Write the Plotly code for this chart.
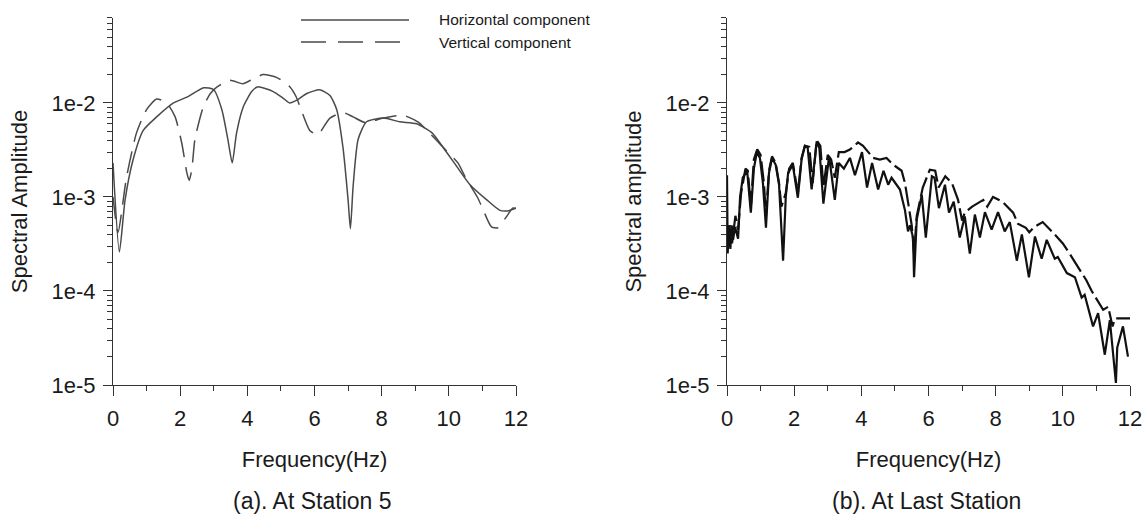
import plotly.graph_objects as go

# ---------------- data ----------------
# (a) At Station 5
freq_a_h = [0, 0.19, 0.36, 0.6, 0.9, 1.3, 1.8, 2.2, 2.7, 3.0, 3.24, 3.42, 3.55, 3.68, 3.88,
            4.13, 4.3, 4.77, 5.07, 5.26, 5.47, 5.77, 6.16, 6.46, 6.66, 6.85, 7.0, 7.07, 7.15,
            7.3, 7.55, 8.05, 8.54, 9.04, 9.5, 9.82, 10.24, 10.63, 11.13, 11.52, 11.75, 12.0]
amp_a_h = [2.3e-3, 2.6e-4, 9.3e-4, 2.5e-3, 5.1e-3, 7.1e-3, 1.0e-2, 1.15e-2, 1.45e-2, 1.38e-2,
           8.5e-3, 4.1e-3, 2.3e-3, 4.8e-3, 9.1e-3, 1.32e-2, 1.48e-2, 1.32e-2, 1.12e-2, 1.0e-2,
           1.07e-2, 1.26e-2, 1.38e-2, 1.2e-2, 8.5e-3, 3.3e-3, 9.3e-4, 4.6e-4, 1.3e-3, 4.1e-3,
           6.3e-3, 6.9e-3, 6.3e-3, 6.0e-3, 4.8e-3, 3.4e-3, 2.1e-3, 1.35e-3, 9.3e-4, 7.2e-4,
           7.1e-4, 7.6e-4]

freq_a_v = [0, 0.15, 0.4, 0.7, 1.0, 1.3, 1.6, 1.85, 2.05, 2.2, 2.27, 2.35, 2.44, 2.69, 2.9,
            3.1, 3.48, 3.87, 4.1, 4.47, 4.88, 5.27, 5.45, 5.57, 5.86, 6.07, 6.19, 6.46, 6.85,
            7.15, 7.5, 8.05, 8.64, 9.1, 9.35, 9.82, 10.27, 10.5, 10.86, 11.0, 11.27, 11.46,
            11.72, 11.9, 12.0]
amp_a_v = [1.0e-3, 4.2e-4, 1.6e-3, 4.8e-3, 8.5e-3, 1.1e-2, 1.0e-2, 7.1e-3, 3.7e-3, 1.8e-3,
           1.5e-3, 2.0e-3, 4.1e-3, 9.1e-3, 1.26e-2, 1.48e-2, 1.74e-2, 1.6e-2, 1.74e-2, 2.0e-2,
           1.86e-2, 1.48e-2, 1.17e-2, 9.1e-3, 5.1e-3, 4.6e-3, 5.0e-3, 6.9e-3, 7.9e-3, 7.1e-3,
           6.2e-3, 6.9e-3, 7.4e-3, 6.2e-3, 5.1e-3, 3.4e-3, 2.3e-3, 1.6e-3, 9.8e-4, 7.6e-4,
           4.8e-4, 4.7e-4, 6.2e-4, 7.6e-4, 7.6e-4]

# (b) At Last Station
freq_b_h = [0.0, 0.02, 0.06, 0.1, 0.14, 0.18, 0.24, 0.33, 0.39, 0.47, 0.6, 0.71, 0.8, 0.89,
            0.98, 1.07, 1.16, 1.25, 1.34, 1.45, 1.55, 1.67, 1.75, 1.82, 1.96, 2.11, 2.22,
            2.32, 2.4, 2.52, 2.67, 2.75, 2.87, 3.04, 3.21, 3.33, 3.48, 3.66, 3.81, 4.02, 4.17,
            4.32, 4.5, 4.66, 4.8, 4.9, 5.15, 5.3, 5.39, 5.45, 5.54, 5.57, 5.65, 5.8, 5.92,
            6.1, 6.18, 6.31, 6.49, 6.61, 6.75, 6.93, 7.08, 7.23, 7.38, 7.53, 7.68, 7.88, 8.07,
            8.27, 8.42, 8.63, 8.78, 8.99, 9.17, 9.37, 9.52, 9.76, 9.85, 10.12, 10.36, 10.56,
            10.65, 10.9, 11.05, 11.25, 11.4, 11.58, 11.62, 11.79, 11.94]
amp_b_h = [1.7e-3, 2.5e-4, 5.0e-4, 2.8e-4, 5.0e-4, 3.5e-4, 4.8e-4, 3.6e-4, 1.0e-3, 1.6e-3,
           1.9e-3, 6.8e-4, 2.0e-3, 3.0e-3, 2.6e-3, 1.4e-3, 4.7e-4, 1.8e-3, 2.6e-3, 2.2e-3,
           1.35e-3, 2.1e-4, 1.0e-3, 1.8e-3, 2.2e-3, 9.8e-4, 2.5e-3, 3.5e-3, 3.4e-3, 1.2e-3,
           3.9e-3, 3.3e-3, 8.5e-4, 2.7e-3, 9.3e-4, 2.3e-3, 2.0e-3, 2.6e-3, 1.7e-3, 3.0e-3,
           1.26e-3, 2.3e-3, 1.2e-3, 1.9e-3, 1.35e-3, 1.6e-3, 1.2e-3, 7.2e-4, 4.3e-4, 5.0e-4,
           3.7e-4, 1.4e-4, 5.8e-4, 1.05e-3, 3.7e-4, 1.66e-3, 1.6e-3, 7.6e-4, 1.35e-3, 6.8e-4,
           8.9e-4, 3.7e-4, 6.2e-4, 2.5e-4, 6.5e-4, 3.7e-4, 6.9e-4, 4.5e-4, 6.9e-4, 4.3e-4,
           5.4e-4, 2.1e-4, 4.0e-4, 1.4e-4, 3.8e-4, 2.2e-4, 3.5e-4, 2.2e-4, 2.3e-4, 1.55e-4,
           1.4e-4, 8.5e-5, 9.1e-5, 4.2e-5, 5.8e-5, 2.1e-5, 4.9e-5, 1.05e-5, 2.5e-5, 4.2e-5,
           2.0e-5]

freq_b_v = [0.0, 0.08, 0.15, 0.25, 0.33, 0.42, 0.55, 0.62, 0.71, 0.8, 0.9, 1.0, 1.1, 1.16,
            1.25, 1.34, 1.45, 1.55, 1.62, 1.75, 1.85, 1.96, 2.11, 2.22, 2.32, 2.45, 2.55,
            2.67, 2.78, 2.87, 3.0, 3.1, 3.21, 3.33, 3.5, 3.66, 3.8, 3.9, 4.05, 4.2, 4.35,
            4.55, 4.75, 4.95, 5.2, 5.3, 5.42, 5.5, 5.57, 5.65, 5.83, 6.04, 6.2, 6.3, 6.5,
            6.7, 6.88, 7.0, 7.08, 7.3, 7.63, 7.75, 7.92, 8.2, 8.52, 8.66, 8.9, 9.0, 9.15,
            9.4, 9.7, 10.0, 10.2, 10.45, 10.7, 10.86, 11.1, 11.2, 11.35, 11.48, 11.55, 12.0]
amp_b_v = [3.2e-4, 5.0e-4, 3.2e-4, 6.3e-4, 4.5e-4, 1.1e-3, 2.0e-3, 1.9e-3, 7.9e-4, 2.5e-3,
           3.2e-3, 2.8e-3, 1.4e-3, 6.3e-4, 1.9e-3, 2.7e-3, 2.3e-3, 1.4e-3, 7.9e-4, 1.1e-3,
           2.0e-3, 2.3e-3, 1.1e-3, 2.6e-3, 3.5e-3, 3.4e-3, 1.4e-3, 4.0e-3, 3.5e-3, 1.26e-3,
           2.8e-3, 2.5e-3, 1.6e-3, 3.0e-3, 3.0e-3, 3.2e-3, 3.5e-3, 3.8e-3, 3.5e-3, 3.0e-3,
           2.6e-3, 2.5e-3, 2.6e-3, 2.2e-3, 1.9e-3, 1.4e-3, 7.9e-4, 5.0e-4, 2.5e-4, 6.3e-4,
           1.26e-3, 1.95e-3, 1.9e-3, 1.26e-3, 1.66e-3, 1.4e-3, 9.3e-4, 5.6e-4, 6.8e-4, 7.9e-4,
           9.3e-4, 7.9e-4, 1.0e-3, 8.9e-4, 6.8e-4, 5.2e-4, 4.7e-4, 4.2e-4, 4.8e-4, 5.4e-4,
           4.2e-4, 3.2e-4, 2.5e-4, 1.8e-4, 1.3e-4, 1.0e-4, 7.1e-5, 6.3e-5, 6.8e-5, 4.2e-5,
           5.1e-5, 5.1e-5]

x_major = [0, 2, 4, 6, 8, 10, 12]
x_minor = [1, 3, 5, 7, 9, 11]
y_major = [1e-5, 1e-4, 1e-3, 1e-2]
y_labels = ["1e-5", "1e-4", "1e-3", "1e-2"]
y_minor = [k * 10.0 ** e for e in (-5, -4, -3, -2) for k in range(2, 10)]

series_names = ["Horizontal component", "Vertical component"]
captions = ["(a). At Station 5", "(b). At Last Station"]
y_titles = ["Spectral Amplitude", "Spectral amplitude"]

# ---------------- figure ----------------
W, H = 1145, 515
gray = "#4a4a4a"
axc = "#333333"
txt = "#1a1a1a"
font_family = "Liberation Sans, Arial, sans-serif"

fig = go.Figure()
fig.add_trace(go.Scatter(x=freq_a_h, y=amp_a_h, mode="lines", name=series_names[0],
                         line=dict(color=gray, width=1.5, shape="spline", smoothing=0.6),
                         xaxis="x", yaxis="y", showlegend=False))
fig.add_trace(go.Scatter(x=freq_a_v, y=amp_a_v, mode="lines", name=series_names[1],
                         line=dict(color=gray, width=1.5, dash="22px,10px", shape="spline", smoothing=0.6),
                         xaxis="x", yaxis="y", showlegend=False))
fig.add_trace(go.Scatter(x=freq_b_h, y=amp_b_h, mode="lines", name=series_names[0],
                         line=dict(color="#111111", width=2.2),
                         xaxis="x2", yaxis="y2", showlegend=False))
fig.add_trace(go.Scatter(x=freq_b_v, y=amp_b_v, mode="lines", name=series_names[1],
                         line=dict(color="#111111", width=2.2, dash="20px,5px"),
                         xaxis="x2", yaxis="y2", showlegend=False))

ydom = [130 / H, 497 / H]


def xaxis(domain, anchor):
    return dict(domain=domain, anchor=anchor, range=[0, 12], tickmode="array", automargin=False,
                tickvals=x_major, ticks="outside", ticklen=10, tickwidth=1, tickcolor=axc,
                ticklabelstandoff=4,
                showline=True, linecolor=axc, linewidth=1, showgrid=False, zeroline=False,
                minor=dict(tickmode="array", tickvals=x_minor, ticks="outside", ticklen=5,
                           tickwidth=1, tickcolor=axc, showgrid=False),
                tickfont=dict(size=22, color=txt, family=font_family),
                title=dict(text="Frequency(Hz)", font=dict(size=22, color=txt, family=font_family),
                           standoff=21))


def yaxis(anchor, title):
    return dict(domain=ydom, anchor=anchor, type="log", range=[-5, -1.097], tickmode="array",
                automargin=False,
                tickvals=y_major, ticktext=y_labels, ticks="outside", ticklen=9, tickwidth=1,
                tickcolor=axc, showline=True, linecolor=axc, linewidth=1, showgrid=False,
                zeroline=False, ticklabelstandoff=3,
                minor=dict(tickmode="array", tickvals=y_minor, ticks="outside", ticklen=5,
                           tickwidth=1, tickcolor=axc, showgrid=False),
                tickfont=dict(size=22, color=txt, family=font_family),
                title=dict(text=title, font=dict(size=22, color=txt, family=font_family),
                           standoff=17))


xa_dom = [113 / W, 516 / W]
xb_dom = [727 / W, 1130 / W]

# legend (drawn manually to match the long sample lines)
shapes = [
    dict(type="line", xref="paper", yref="paper", x0=301 / W, x1=409 / W,
         y0=1 - 20 / H, y1=1 - 20 / H, line=dict(color=gray, width=1.4)),
    dict(type="line", xref="paper", yref="paper", x0=301 / W, x1=400 / W,
         y0=1 - 42 / H, y1=1 - 42 / H, line=dict(color=gray, width=1.4, dash="25px,12px")),
]
annotations = [
    dict(text=series_names[0], xref="paper", yref="paper", x=437 / W, y=1 - 20 / H,
         xanchor="left", yanchor="middle", showarrow=False,
         font=dict(size=15.5, color=txt, family=font_family)),
    dict(text=series_names[1], xref="paper", yref="paper", x=437 / W, y=1 - 42 / H,
         xanchor="left", yanchor="middle", showarrow=False,
         font=dict(size=15.5, color=txt, family=font_family)),
    dict(text=captions[0], xref="paper", yref="paper", x=312 / W, y=1 - 501 / H,
         xanchor="center", yanchor="middle", showarrow=False,
         font=dict(size=23, color=txt, family=font_family)),
    dict(text=captions[1], xref="paper", yref="paper", x=926 / W, y=1 - 501 / H,
         xanchor="center", yanchor="middle", showarrow=False,
         font=dict(size=23, color=txt, family=font_family)),
]

fig.update_layout(
    width=W, height=H,
    margin=dict(l=0, r=0, t=0, b=0, autoexpand=False),
    paper_bgcolor="white", plot_bgcolor="white",
    font=dict(family=font_family, color=txt),
    xaxis=xaxis(xa_dom, "y"),
    yaxis=yaxis("x", y_titles[0]),
    xaxis2=xaxis(xb_dom, "y2"),
    yaxis2=yaxis("x2", y_titles[1]),
    shapes=shapes,
    annotations=annotations,
    showlegend=False,
)

fig.write_html("out.html")
